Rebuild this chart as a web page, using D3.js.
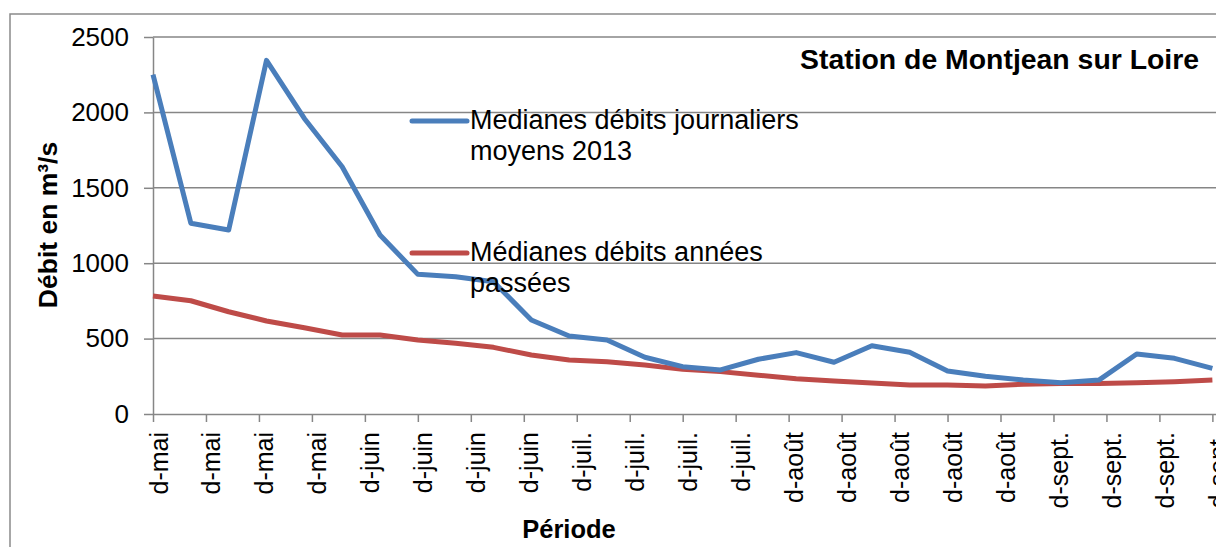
<!DOCTYPE html>
<html>
<head>
<meta charset="utf-8">
<script src="https://cdn.jsdelivr.net/npm/d3@7"></script>
<style>
    body { margin: 0; background: #fff; }
    svg { display: block; font-family: "Liberation Sans", Arial, sans-serif; }
</style>
</head>
<body>
<div id="chart"></div>
<script>
// dates des points (tous les 5 jours)
var dates = [
    "2013-05-10", "2013-05-15", "2013-05-20", "2013-05-25", "2013-05-30",
    "2013-06-04", "2013-06-09", "2013-06-14", "2013-06-19", "2013-06-24", "2013-06-29",
    "2013-07-04", "2013-07-09", "2013-07-14", "2013-07-19", "2013-07-24", "2013-07-29",
    "2013-08-03", "2013-08-08", "2013-08-13", "2013-08-18", "2013-08-23", "2013-08-28",
    "2013-09-02", "2013-09-07", "2013-09-12", "2013-09-17", "2013-09-22", "2013-09-27"
];

var debits2013 = [
    2250, 1265, 1220, 2345, 1960, 1640, 1187, 926, 910, 877,
    623, 517, 491, 376, 314, 292, 363, 407, 343, 453,
    409, 285, 250, 225, 208, 225, 398, 369, 303
];

var debitsPasses = [
    782, 751, 678, 617, 572, 524, 524, 491, 469, 442,
    391, 358, 347, 325, 296, 281, 257, 234, 219, 206,
    192, 192, 186, 197, 203, 203, 208, 214, 225
];

var yTicks = [0, 500, 1000, 1500, 2000, 2500];
var moisAbr = ["janv.", "févr.", "mars", "avr.", "mai", "juin", "juil.", "août", "sept.", "oct.", "nov.", "déc."];

var legend1 = ["Medianes débits journaliers", "moyens 2013"];
var legend2 = ["Médianes débits années", "passées"];
var titre = "Station de Montjean sur Loire";

var W = 1216, H = 547;
var gridCol = "#868686";
var parse = d3.utcParse("%Y-%m-%d");

var series = [
    { values: debitsPasses, color: "#be4b48", legend: legend2, ly: 253 },
    { values: debits2013, color: "#4a7ebb", legend: legend1, ly: 121 }
];

var svg = d3.select("#chart").append("svg")
    .attr("width", W)
    .attr("height", H);

// cadre du graphique
svg.append("rect")
    .attr("x", 10).attr("y", 14)
    .attr("width", W + 20).attr("height", H + 20)
    .attr("fill", "none")
    .attr("stroke", "#8a8a8a")
    .attr("stroke-width", 1.5);

var start = parse(dates[0]);
var end = d3.utcDay.offset(start, 150);

var x = d3.scaleUtc()
    .domain([start, end])
    .range([153, 153 + 150 * 7.567]);

var y = d3.scaleLinear()
    .domain([0, 2500])
    .range([414, 37]);

// grille horizontale
svg.append("g")
    .selectAll("line")
    .data(yTicks.slice(1))
    .enter().append("line")
    .attr("x1", x.range()[0]).attr("x2", x.range()[1])
    .attr("y1", function (d) { return y(d); })
    .attr("y2", function (d) { return y(d); })
    .attr("stroke", gridCol)
    .attr("stroke-width", 1.5);

// axe Y
var gy = svg.append("g")
    .attr("transform", "translate(" + x.range()[0] + ",0)")
    .call(d3.axisLeft(y).tickValues(yTicks).tickSize(9).tickSizeOuter(0).tickPadding(15)
        .tickFormat(d3.format("d")));
gy.selectAll("text").style("font-size", "26px").attr("fill", "#000");

// axe X
var tickDates = d3.utcDay.range(start, end, 7);
var gx = svg.append("g")
    .attr("transform", "translate(0," + y(0) + ")")
    .call(d3.axisBottom(x).tickValues(tickDates).tickSize(8).tickSizeOuter(0)
        .tickFormat(function (d) { return "d-" + moisAbr[d.getUTCMonth()]; }));
gx.selectAll("text")
    .style("font-size", "25px")
    .attr("fill", "#000")
    .attr("transform", "rotate(-90)")
    .attr("x", -18)
    .attr("y", 14)
    .attr("dy", 0)
    .style("text-anchor", "end");

svg.selectAll(".domain, .tick line")
    .attr("stroke", gridCol)
    .attr("stroke-width", 1.5);

// courbes
var line = d3.line()
    .x(function (d, i) { return x(parse(dates[i])); })
    .y(function (d) { return y(d); });

series.forEach(function (s) {
    svg.append("path")
        .datum(s.values)
        .attr("d", line)
        .attr("fill", "none")
        .attr("stroke", s.color)
        .attr("stroke-width", 5)
        .attr("stroke-linejoin", "round");
});

// légende
series.forEach(function (s) {
    svg.append("line")
        .attr("x1", 412).attr("x2", 467)
        .attr("y1", s.ly).attr("y2", s.ly)
        .attr("stroke", s.color)
        .attr("stroke-width", 5)
        .attr("stroke-linecap", "round");
    svg.append("text")
        .attr("x", 470)
        .attr("y", s.ly + 8)
        .style("font-size", "27px")
        .selectAll("tspan")
        .data(s.legend)
        .enter().append("tspan")
        .attr("x", 470)
        .attr("dy", function (d, i) { return i ? 31 : 0; })
        .text(function (d) { return d; });
});

// titres
svg.append("text")
    .attr("x", 800).attr("y", 69)
    .style("font-size", "28.4px").style("font-weight", "bold")
    .text(titre);

svg.append("text")
    .attr("x", 569).attr("y", 538)
    .attr("text-anchor", "middle")
    .style("font-size", "25.5px").style("font-weight", "bold")
    .text("Période");

svg.append("text")
    .attr("transform", "translate(57,225) rotate(-90)")
    .attr("text-anchor", "middle")
    .style("font-size", "26.5px").style("font-weight", "bold")
    .text("Débit en m³/s");
</script>
</body>
</html>
